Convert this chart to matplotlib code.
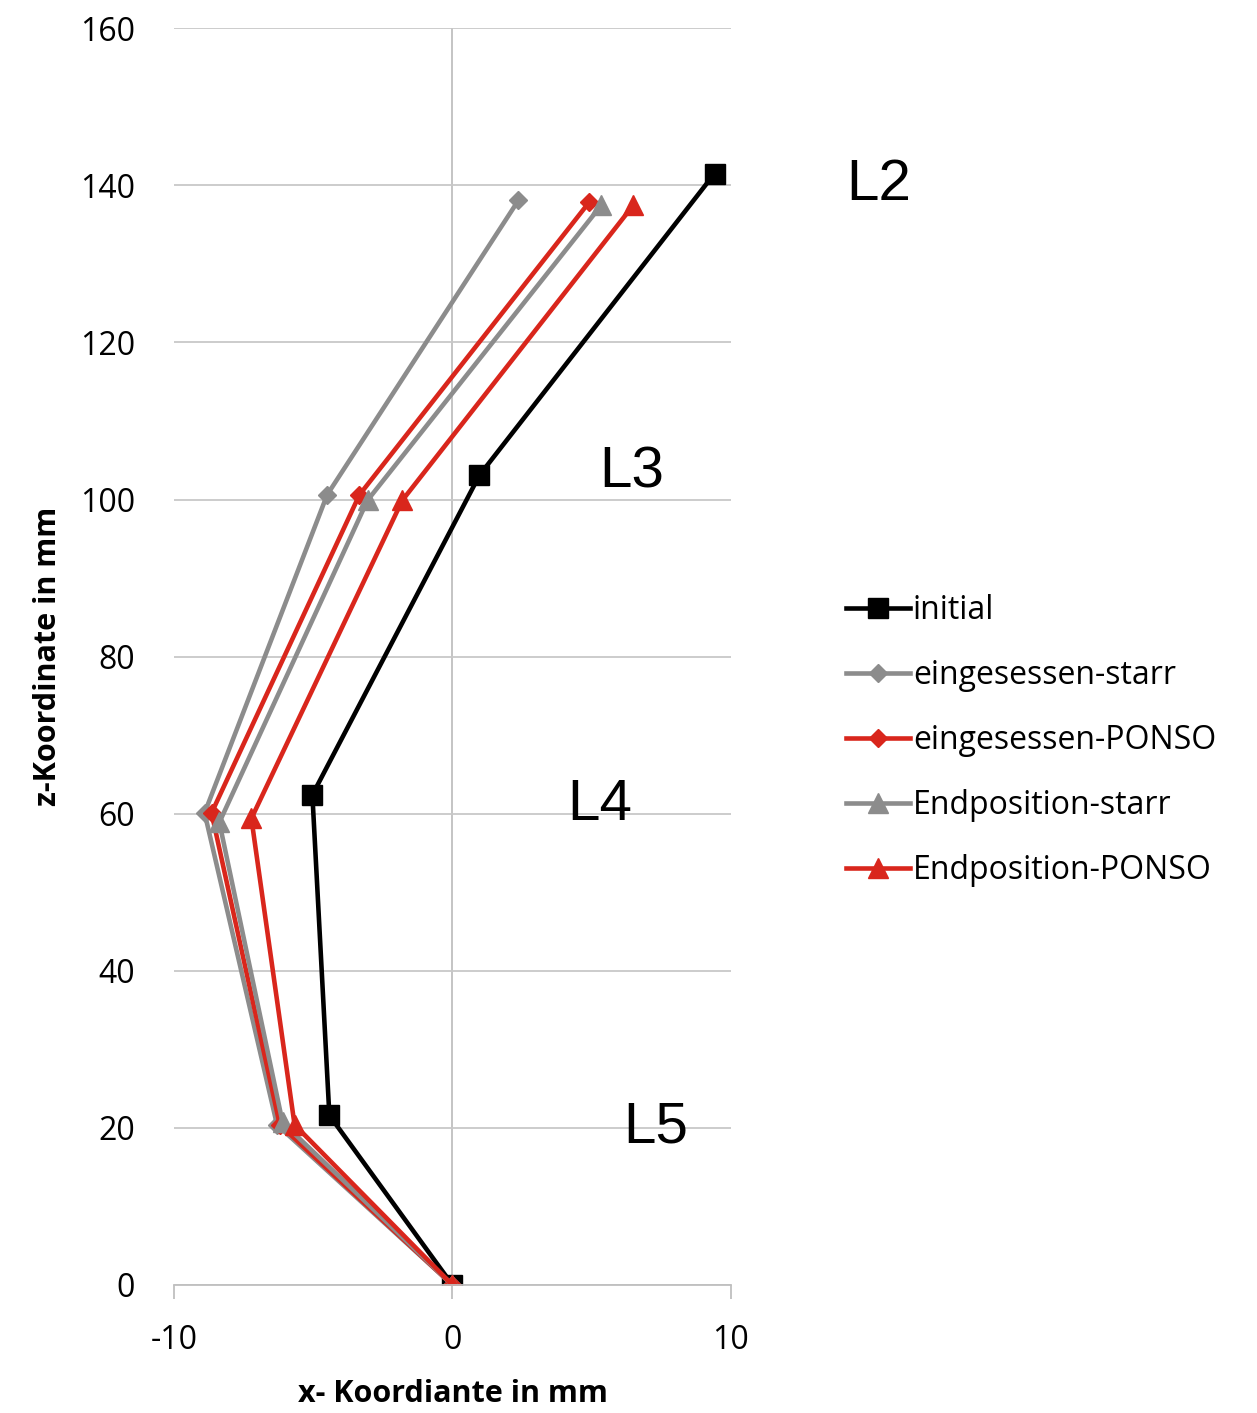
import matplotlib.pyplot as plt

# daten (x in mm, z in mm)
initial_x = [0, -4.42, -5.03, 0.97, 9.41]
initial_z = [0, 21.6, 62.4, 103.1, 141.5]
eing_starr_x = [0, -6.3, -8.9, -4.5, 2.37]
eing_starr_z = [0, 20.4, 60.1, 100.6, 138.1]
eing_ponso_x = [0, -6.2, -8.65, -3.34, 4.92]
eing_ponso_z = [0, 20.4, 60.1, 100.6, 137.9]
end_starr_x = [0, -6.1, -8.37, -3.05, 5.35]
end_starr_z = [0, 20.7, 58.9, 99.9, 137.5]
end_ponso_x = [0, -5.67, -7.22, -1.8, 6.5]
end_ponso_z = [0, 20.4, 59.4, 99.9, 137.5]

labels = ["L2", "L3", "L4", "L5"]
label_x = [15.3, 6.43, 5.28, 7.3]
label_z = [140, 103.4, 61.1, 20.1]

plt.rcParams['font.family'] = ['Open Sans', 'DejaVu Sans']
plt.rcParams['axes.unicode_minus'] = False
grau = '#8c8c8c'
rot = '#d9261c'

fig = plt.figure(figsize=(12.57, 14.13), dpi=100)
ax = fig.add_axes([0.1384, 0.0906, 0.4431, 0.8894])

ax.plot(initial_x, initial_z, color='black', lw=3.3, marker='s', ms=15, label='initial')
ax.plot(eing_starr_x, eing_starr_z, color=grau, lw=3.3, marker='D', ms=9, label='eingesessen-starr')
ax.plot(eing_ponso_x, eing_ponso_z, color=rot, lw=3.3, marker='D', ms=9, label='eingesessen-PONSO')
ax.plot(end_starr_x, end_starr_z, color=grau, lw=3.3, marker='^', ms=14, label='Endposition-starr')
ax.plot(end_ponso_x, end_ponso_z, color=rot, lw=3.3, marker='^', ms=14, label='Endposition-PONSO')

ax.set_xlim(-10, 10)
ax.set_ylim(0, 160)
ax.set_xticks([-10, 0, 10])
ax.set_yticks(range(0, 161, 20))
ax.grid(axis='y', color='#c8c8c8', lw=1.3)
ax.set_axisbelow(True)
for s in ['top', 'right', 'left']:
    ax.spines[s].set_visible(False)
ax.spines['bottom'].set_color('#bfbfbf')
ax.spines['bottom'].set_linewidth(1.3)
ax.axvline(0, color='#bfbfbf', lw=1.3, zorder=0)
ax.tick_params(axis='x', length=10, width=1.3, color='#bfbfbf', labelsize=23, pad=18)
ax.tick_params(axis='y', length=0, labelsize=23, pad=28)
ax.set_xlabel('x- Koordiante in mm', fontsize=22, fontweight='bold', labelpad=16)
ax.set_ylabel('z-Koordinate in mm', fontsize=22, fontweight='bold', labelpad=12)

for t, x, z in zip(labels, label_x, label_z):
    ax.text(x, z, t, fontsize=42, family='Liberation Sans', ha='center', va='center', clip_on=False)

fig.legend(loc='upper left', bbox_to_anchor=(0.65, 0.6), frameon=False, fontsize=23,
           handlelength=2.0, handletextpad=0.1, labelspacing=1.0)

fig.savefig('out.png', dpi=100)
